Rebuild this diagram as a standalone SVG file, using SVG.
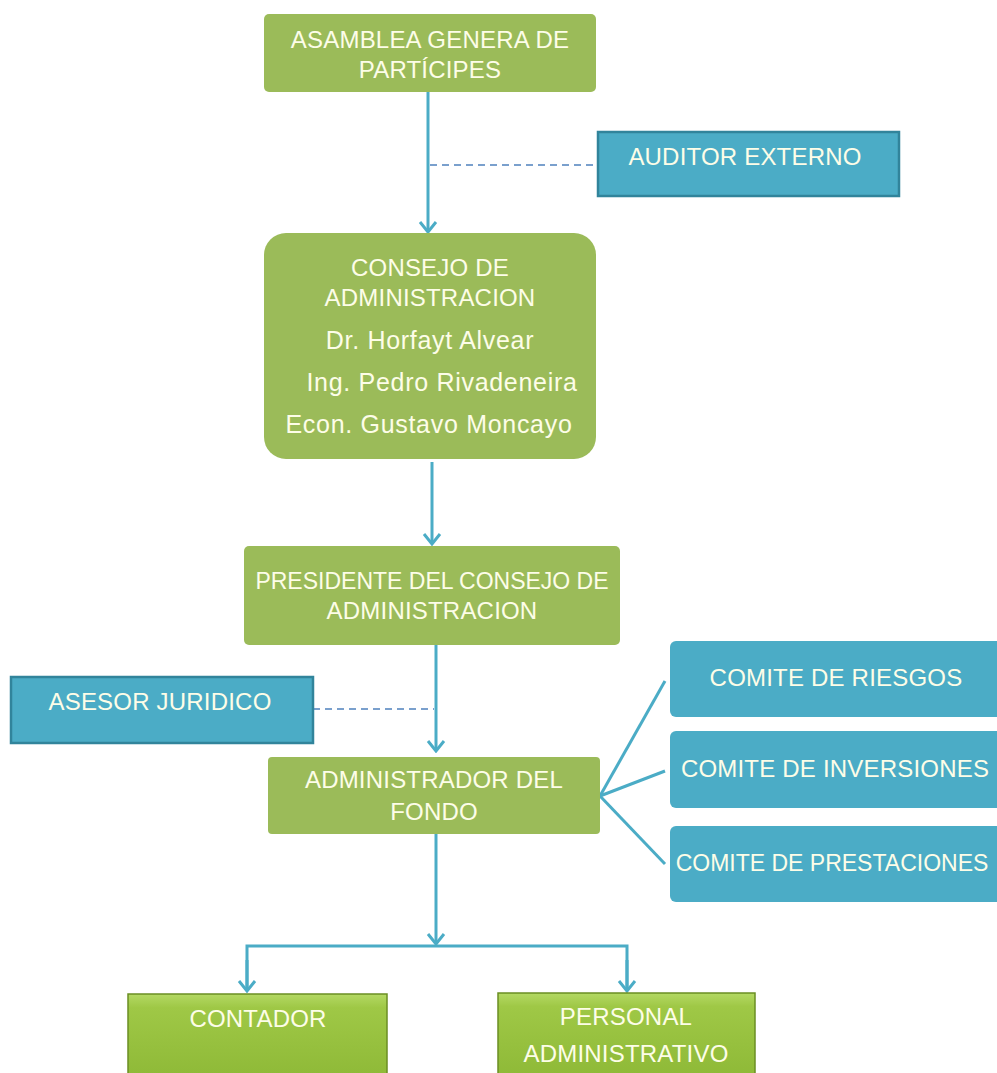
<svg xmlns="http://www.w3.org/2000/svg" width="997" height="1073" viewBox="0 0 997 1073">
<style>
.g{fill:#9BBB59}
.b{fill:#4BACC6}
.bs{fill:#4BACC6;stroke:#31849B;stroke-width:2.5}
.t{font-family:"Liberation Sans",Arial,sans-serif;font-size:24px;letter-spacing:0.2px;fill:#FDFDE8;text-anchor:middle}
.n{font-size:25px;letter-spacing:0.7px}
.s{font-size:23px;letter-spacing:0}
.c{stroke:#4BACC6;stroke-width:3;fill:none}
.d{stroke:#4F81BD;stroke-width:1.5;fill:none;stroke-dasharray:7,5}
</style>
<defs>
<marker id="ah" viewBox="-12 -10 14 20" refX="0" refY="0" markerWidth="14" markerHeight="20" markerUnits="userSpaceOnUse" orient="auto">
<path d="M-10,-8 L0,0 L-10,8" fill="none" stroke="#4BACC6" stroke-width="3"/>
</marker>
<linearGradient id="lg" x1="0" y1="0" x2="0" y2="1">
<stop offset="0" stop-color="#B4D964"/>
<stop offset="0.15" stop-color="#9FC846"/>
<stop offset="1" stop-color="#8DB836"/>
</linearGradient>
</defs>
<g id="connectors">
<line class="c" x1="428" y1="92" x2="428" y2="232" marker-end="url(#ah)"/>
<line class="d" x1="430" y1="165" x2="597" y2="165"/>
<line class="c" x1="432" y1="462" x2="432" y2="544" marker-end="url(#ah)"/>
<line class="c" x1="436" y1="645" x2="436" y2="751" marker-end="url(#ah)"/>
<line class="d" x1="313" y1="709" x2="434" y2="709"/>
<line class="c" x1="600" y1="796" x2="665" y2="681"/>
<line class="c" x1="600" y1="796" x2="665" y2="771"/>
<line class="c" x1="600" y1="796" x2="665" y2="864"/>
<line class="c" x1="436" y1="834" x2="436" y2="944" marker-end="url(#ah)"/>
<polyline class="c" points="247,990 247,946 627,946 627,990"/>
<line class="c" x1="247" y1="960" x2="247" y2="991" marker-end="url(#ah)"/>
<line class="c" x1="627" y1="960" x2="627" y2="991" marker-end="url(#ah)"/>
</g>
<g id="asamblea">
<rect class="g" x="264" y="14" width="332" height="78" rx="5"/>
<text class="t" x="430" y="48">ASAMBLEA  GENERA DE</text>
<text class="t" x="430" y="78">PARTÍCIPES</text>
</g>
<g id="auditor">
<rect class="bs" x="598" y="132" width="301" height="64"/>
<text class="t" x="745" y="165">AUDITOR EXTERNO</text>
</g>
<g id="consejo">
<rect class="g" x="264" y="233" width="332" height="226" rx="22"/>
<text class="t" x="430" y="276">CONSEJO DE</text>
<text class="t" x="430" y="306">ADMINISTRACION</text>
<text class="t n" x="430" y="349">Dr. Horfayt Alvear</text>
<text class="t n" x="442" y="391">Ing. Pedro Rivadeneira</text>
<text class="t n" x="429" y="433">Econ. Gustavo Moncayo</text>
</g>
<g id="presidente">
<rect class="g" x="244" y="546" width="376" height="99" rx="5"/>
<text class="t s" x="432" y="589">PRESIDENTE DEL CONSEJO DE</text>
<text class="t" x="432" y="619">ADMINISTRACION</text>
</g>
<g id="asesor">
<rect class="bs" x="11" y="677" width="302" height="66"/>
<text class="t" x="160" y="710">ASESOR JURIDICO</text>
</g>
<g id="administrador">
<rect class="g" x="268" y="757" width="332" height="77" rx="4"/>
<text class="t" x="434" y="788">ADMINISTRADOR DEL</text>
<text class="t" x="434" y="820">FONDO</text>
</g>
<g id="riesgos">
<rect class="b" x="670" y="641" width="340" height="76" rx="6"/>
<text class="t" x="836" y="686">COMITE DE RIESGOS</text>
</g>
<g id="inversiones">
<rect class="b" x="670" y="731" width="340" height="77" rx="6"/>
<text class="t" x="835" y="777">COMITE DE INVERSIONES</text>
</g>
<g id="prestaciones">
<rect class="b" x="670" y="826" width="340" height="76" rx="6"/>
<text class="t s" x="832" y="871">COMITE DE PRESTACIONES</text>
</g>
<g id="contador">
<rect x="128" y="994" width="259" height="90" fill="url(#lg)" stroke="#6B8E23" stroke-width="1.5"/>
<text class="t" x="258" y="1027">CONTADOR</text>
</g>
<g id="personal">
<rect x="498" y="993" width="257" height="90" fill="url(#lg)" stroke="#6B8E23" stroke-width="1.5"/>
<text class="t" x="626" y="1025">PERSONAL</text>
<text class="t" x="626" y="1062">ADMINISTRATIVO</text>
</g>
</svg>
